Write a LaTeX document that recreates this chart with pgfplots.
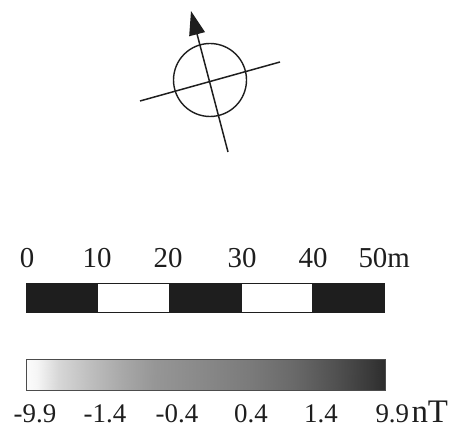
\documentclass[border=0pt]{standalone}
\usepackage{pgfplots}
\pgfplotsset{compat=1.18}
\usepackage{fontspec}
\setmainfont{Liberation Serif}
\usetikzlibrary{arrows.meta}
\definecolor{ink}{RGB}{30,30,30}
\begin{document}
\begin{tikzpicture}
\begin{axis}[
  width=452bp, height=434bp, scale only axis,
  xmin=0, xmax=452, ymin=0, ymax=434,
  hide axis, clip=false,
  colormap={gb}{rgb255(0cm)=(252,252,252); rgb255(1cm)=(246,246,246); rgb255(3cm)=(215,215,215);
    rgb255(6cm)=(190,190,190); rgb255(9cm)=(168,168,168); rgb255(12cm)=(150,150,150);
    rgb255(17cm)=(135,135,135); rgb255(21cm)=(122,122,122); rgb255(25cm)=(105,105,105);
    rgb255(29cm)=(80,80,80); rgb255(32cm)=(58,58,58); rgb255(33.5cm)=(45,45,45)},
]
\path (axis cs:0,0) rectangle (axis cs:452,434);
% north arrow
\addplot[ink, line width=1.5pt, no marks] coordinates {(140,333) (280,372)};
\addplot[ink, line width=1.5pt, no marks, -{Triangle[length=24bp,width=16bp]}] coordinates {(228,282) (191,423)};
\addplot[ink, only marks, mark=o, mark size=36.5bp, mark options={line width=1.4pt}] coordinates {(210,354)};
% scale bar
\addplot[draw=ink, fill=ink, line width=0.6pt] coordinates {(26,122) (97.6,122) (97.6,151) (26,151)} -- cycle;
\addplot[draw=ink, fill=white, line width=0.6pt] coordinates {(97.6,122) (169.2,122) (169.2,151) (97.6,151)} -- cycle;
\addplot[draw=ink, fill=ink, line width=0.6pt] coordinates {(169.2,122) (240.8,122) (240.8,151) (169.2,151)} -- cycle;
\addplot[draw=ink, fill=white, line width=0.6pt] coordinates {(240.8,122) (312.4,122) (312.4,151) (240.8,151)} -- cycle;
\addplot[draw=ink, fill=ink, line width=0.6pt] coordinates {(312.4,122) (384,122) (384,151) (312.4,151)} -- cycle;
\foreach \x/\t in {27/0, 97/10, 168/20, 242/30, 313/40} {
  \edef\tmp{\noexpand\node[font=\noexpand\fontsize{29}{33}\noexpand\selectfont, text=ink, anchor=base] at (axis cs:\x,166) {\t};}\tmp
}
\node[font=\fontsize{29}{33}\selectfont, text=ink, anchor=base west] at (axis cs:355,166) {50m};
% colour bar
\addplot[surf, shader=interp, point meta=x, draw=none] coordinates {
(26,44) (40,44) (60,44) (100,44) (140,44) (170,44) (220,44) (260,44) (300,44) (340,44) (370,44) (385,44)

(26,75) (40,75) (60,75) (100,75) (140,75) (170,75) (220,75) (260,75) (300,75) (340,75) (370,75) (385,75)
};
\addplot[draw=black!70, line width=0.5pt, no marks] coordinates {(26,44) (385,44) (385,75) (26,75)} -- cycle;
\foreach \x/\t in {35/-9.9, 105/-1.4, 177/-0.4, 251/0.4, 321/1.4} {
  \edef\tmp{\noexpand\node[font=\noexpand\fontsize{27}{32}\noexpand\selectfont, text=ink, anchor=base] at (axis cs:\x,12) {\t};}\tmp
}
\node[font=\fontsize{27}{32}\selectfont, text=ink, anchor=base west] at (axis cs:372,12) {9.9};
\node[font=\fontsize{33}{36}\selectfont, text=ink, anchor=base west] at (axis cs:408,12) {nT};
\end{axis}
\end{tikzpicture}
\end{document}
